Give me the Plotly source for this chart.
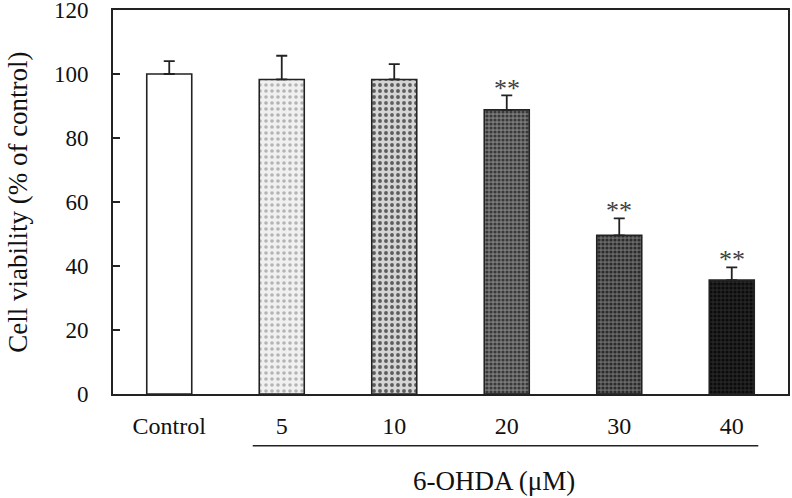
import plotly.graph_objects as go

categories = ["Control", "5", "10", "20", "30", "40"]
viability = [100.0, 98.3, 98.3, 88.8, 49.6, 35.6]
sem = [4.0, 7.4, 4.8, 4.5, 5.3, 4.0]
significance = ["", "", "", "**", "**", "**"]
y_ticks = [0, 20, 40, 60, 80, 100, 120]
x_title = "6-OHDA (μM)"
y_title = "Cell viability (% of control)"

FONT = "Liberation Serif, Times New Roman, serif"

pat_shapes = ["", ".", ".", ".", ".", "."]
bar_fill = ["#ffffff", "#f0f0f0", "#d4d4d4", "#7a7a7a", "#686868", "#242424"]
pat_fg = ["#ffffff", "#b4b4b4", "#5c5c5c", "#3a3a3a", "#2c2c2c", "#0c0c0c"]
pat_size = [6, 6, 6, 4, 4, 4]
pat_sol = [0.3, 0.28, 0.32, 0.5, 0.5, 0.5]

fig = go.Figure()
# solid fill underneath
fig.add_trace(go.Bar(
    x=categories, y=viability, width=0.4,
    marker=dict(color=bar_fill, line=dict(width=0)),
    showlegend=False, hoverinfo="skip",
))
# dot texture, outline and error bars on top
fig.add_trace(go.Bar(
    x=categories, y=viability, width=0.4,
    marker=dict(
        color="rgba(0,0,0,0)",
        line=dict(color="#222222", width=1.6),
        pattern=dict(shape=pat_shapes, fgcolor=pat_fg, bgcolor="rgba(0,0,0,0)",
                     fgopacity=1, size=pat_size, solidity=pat_sol, fillmode="replace"),
    ),
    error_y=dict(type="data", array=sem, arrayminus=[0] * len(sem), symmetric=False,
                 color="#222222", thickness=1.8, width=5.5),
    showlegend=False,
))

for i, (v, e, s) in enumerate(zip(viability, sem, significance)):
    if s:
        fig.add_annotation(x=i, y=v + e + 2.3, text=s, showarrow=False,
                           xanchor="center", yanchor="middle",
                           font=dict(family=FONT, size=26, color="#404040"))

fig.add_annotation(xref="paper", yref="paper", x=-0.141, y=0.5, text=y_title,
                   textangle=-90, showarrow=False, xanchor="center", yanchor="middle",
                   font=dict(family=FONT, size=27, color="#111111"))
fig.add_annotation(xref="paper", yref="paper", x=0.564, y=-0.2266, text=x_title,
                   showarrow=False, xanchor="center", yanchor="middle",
                   font=dict(family=FONT, size=27, color="#111111"))
fig.add_shape(type="line", xref="paper", yref="paper", x0=0.207, x1=0.956,
              y0=-0.135, y1=-0.135, line=dict(color="#222222", width=1.5))

fig.update_layout(
    width=792, height=498,
    margin=dict(l=113, r=4, t=10, b=104, autoexpand=False),
    paper_bgcolor="white", plot_bgcolor="white",
    font=dict(family=FONT, size=23, color="#111111"),
    barmode="overlay",
)
fig.update_xaxes(type="category", categoryorder="array", categoryarray=categories,
                 range=[-0.5, len(categories) - 0.5],
                 showline=True, linecolor="#222222", linewidth=1.6, mirror=True,
                 ticks="", showgrid=False, ticklabelstandoff=9, tickangle=0,
                 automargin=False, tickfont=dict(family=FONT, size=24))
fig.update_yaxes(range=[0, 120], tickvals=y_ticks, showline=True, linecolor="#222222",
                 linewidth=1.6, mirror=True, ticks="inside", ticklen=7, tickwidth=1.5,
                 tickcolor="#222222", showgrid=False, zeroline=False, automargin=False,
                 ticklabeloverflow="allow", ticklabelstandoff=18,
                 tickfont=dict(family=FONT, size=23))

fig.write_html("out.html", config={"displayModeBar": False},
               post_script="document.body.style.margin='0';")
